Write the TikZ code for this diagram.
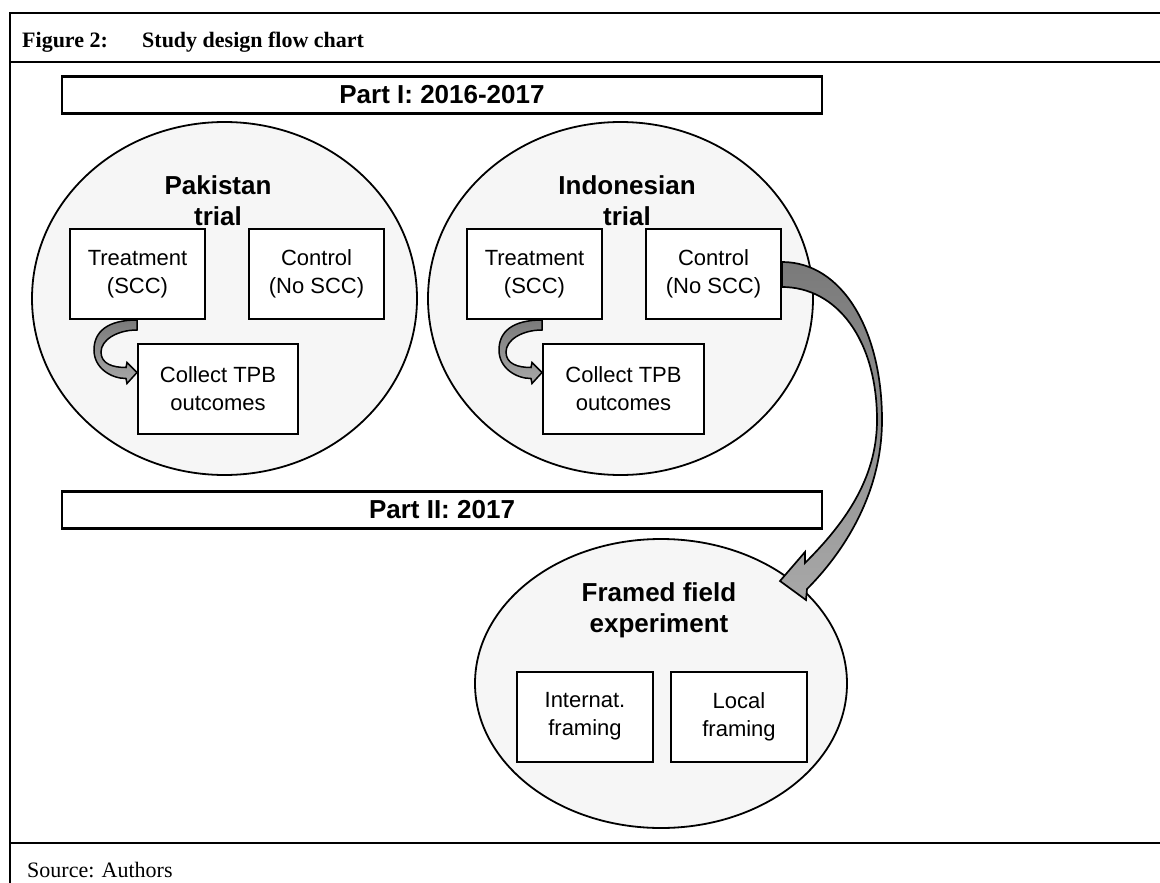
\documentclass[tikz,border=0pt]{standalone}
\usepackage{fontspec}
\setmainfont{Liberation Serif}
\setsansfont{Liberation Sans}
\usepackage{tikz}
\usetikzlibrary{positioning, calc, shapes.geometric}
\definecolor{TrialFill}{HTML}{F6F6F6}
\definecolor{ArrowDark}{HTML}{7A7A7A}
\definecolor{ArrowLight}{HTML}{A8A8A8}

\tikzset{
  frameline/.style={line width=2.4pt},
  partbox/.style={draw, line width=2.2pt, minimum width=760pt, minimum height=37pt,
                  inner sep=0pt, font=\sffamily\bfseries\fontsize{26}{30}\selectfont},
  trialoval/.style={ellipse, draw, fill=TrialFill, line width=1.8pt,
                    minimum width=385pt, minimum height=353pt, inner sep=0pt},
  trialtitle/.style={align=center, inner sep=0pt,
                     font=\sffamily\bfseries\fontsize{26}{31}\selectfont},
  groupbox/.style={draw, fill=white, line width=2pt, minimum width=135pt,
                   minimum height=90pt, align=center, inner sep=0pt,
                   font=\sffamily\fontsize{22}{28}\selectfont},
  loopshaft/.style={draw, line width=1.5pt, top color=ArrowDark, bottom color=ArrowLight},
  bigshaft/.style={draw, line width=1.7pt, top color=ArrowDark, bottom color=ArrowLight}
}

\begin{document}
\begin{tikzpicture}[x=1pt, y=-1pt]
\useasboundingbox (0,0) rectangle (1160,883);

% outer frame
\draw[frameline] (1160,13) -- (10,13) -- (10,883);
\draw[frameline] (10,62) -- (1160,62);
\draw[frameline] (10,843) -- (1160,843);

% caption and source
\node[anchor=base west, inner sep=0pt, font=\fontsize{22}{26}\selectfont\bfseries]
    (figlabel) at (22,48) {Figure 2:};
\node[anchor=base west, inner sep=0pt, font=\fontsize{22}{26}\selectfont\bfseries]
    (figtitle) at (142,48) {Study design flow chart};
\node[anchor=base west, inner sep=0pt, font=\fontsize{22}{26}\selectfont]
    (source) at (27,877) {Source: Authors};

% time bars
\node[partbox] (part1) at (442,95) {Part I: 2016-2017};
\node[partbox] (part2) at (442,510) {Part II: 2017};

% trials
\node[trialoval] (pkoval) at (224.5,298.5) {};
\node[trialoval] (idoval) at (620.5,298.5) {};
\node[trialoval, minimum width=372pt, minimum height=289pt] (frmoval) at (661,683.5) {};

\node[trialtitle] (pktitle) at (218,200.5) {Pakistan\\trial};
\node[trialtitle] (idtitle) at (627,200.5) {Indonesian\\trial};
\node[trialtitle] (frmtitle) at (659,610.5) {Framed field\\experiment};

% groups
\node[groupbox] (pktrt) at (137.5,274) {Treatment\\(SCC)};
\node[groupbox, right=42pt of pktrt] (pkctl) {Control\\(No SCC)};
\node[groupbox, minimum width=160pt] (pkcol) at (218,388.5) {Collect TPB\\outcomes};
\node[groupbox] (idtrt) at (534.5,274) {Treatment\\(SCC)};
\node[groupbox, right=42pt of idtrt] (idctl) {Control\\(No SCC)};
\node[groupbox, minimum width=161pt] (idcol) at (623.5,388.5) {Collect TPB\\outcomes};
\node[groupbox, minimum width=136pt] (intframe) at (585,716.5) {Internat.\\framing};
\node[groupbox, minimum width=136pt, right=16pt of intframe] (locframe) {Local\\framing};

% treatment -> outcomes
\foreach \t in {pk,id}{
  \coordinate (\t top) at (\t trt.south -| \t col.west);
  \coordinate (\t tip) at ([yshift=16pt]\t col.west);
  \draw[loopshaft] (\t top) .. controls +(-30,0) and +(0,-18) .. ($(\t top)+(-43,30)$)
      .. controls +(0,18) and +(-15,0) .. ($(\t tip)+(-11,6)$)
      -- ($(\t tip)+(-10,11)$) -- (\t tip) -- ($(\t tip)+(-10,-10)$) -- ($(\t tip)+(-11,-5)$)
      .. controls +(-13,0) and +(0,12) .. ($(\t top)+(-36,32)$)
      .. controls +(0,-12) and +(-20,0) .. ($(\t top)+(0,10)$) -- cycle;
}

% control -> framed field experiment
\coordinate (bigtip) at (780,581);
\draw[bigshaft] ([yshift=12pt]idctl.east) .. controls +(60,0) and +(0,-90) .. (882,420)
    .. controls +(0,75) and +(35,-35) .. ($(bigtip)+(27,8)$)
    -- ($(bigtip)+(26,19)$) -- (bigtip) -- ($(bigtip)+(25,-29)$) -- ($(bigtip)+(25,-18)$)
    .. controls +(38,-38) and +(0,60) .. (877,420)
    .. controls +(0,-80) and +(55,0) .. ([yshift=-13pt]idctl.east) -- cycle;
\end{tikzpicture}
\end{document}
